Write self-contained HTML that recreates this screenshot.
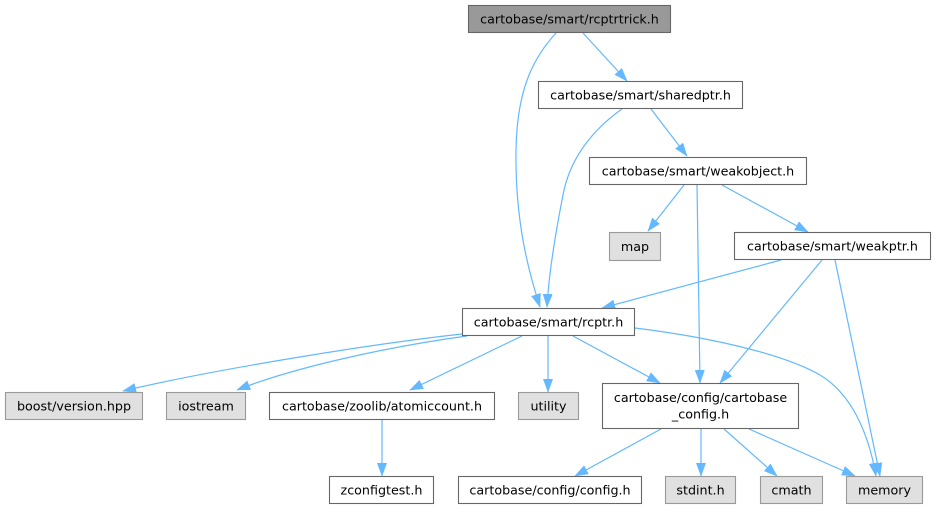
<!DOCTYPE html>
<html>
<head>
<meta charset="utf-8">
<style>
  html, body { margin: 0; padding: 0; background: #ffffff; }
  svg { display: block; }
  text { font-family: "DejaVu Sans", "Liberation Sans", sans-serif; font-size: 12.7px; fill: #000; text-anchor: middle; }
  .e { fill: none; stroke: #63b8ff; stroke-width: 1.2; }
  .w { fill: #ffffff; stroke: #666666; stroke-width: 1.1; }
  .g { fill: #e0e0e0; stroke: #999999; stroke-width: 1.1; }
  .t { fill: #999999; stroke: #666666; stroke-width: 1.1; }
</style>
</head>
<body>
<svg width="936" height="509" viewBox="0 0 936 509" xmlns="http://www.w3.org/2000/svg">
  <defs>
    <marker id="ah" markerUnits="userSpaceOnUse" markerWidth="14" markerHeight="11" refX="13" refY="5" orient="auto">
      <path d="M0,0.3 L13,5 L0,9.7 z" fill="#63b8ff" stroke="#63b8ff" stroke-width="0.5"/>
    </marker>
  </defs>

  <!-- edges -->
  <path class="e" marker-end="url(#ah)" d="M583,33 L627,81"/>
  <path class="e" marker-end="url(#ah)" d="M556,33 C536,55 517,85 516,150 C515,220 528,270 540,307"/>
  <path class="e" marker-end="url(#ah)" d="M622,109 C595,128 572,155 564,190 C556,230 549,270 547,307"/>
  <path class="e" marker-end="url(#ah)" d="M651,109 L687,156"/>
  <path class="e" marker-end="url(#ah)" d="M684,185 L648,231"/>
  <path class="e" marker-end="url(#ah)" d="M697,185 L700,383"/>
  <path class="e" marker-end="url(#ah)" d="M722,185 L808,232"/>
  <path class="e" marker-end="url(#ah)" d="M781,260 L602,308"/>
  <path class="e" marker-end="url(#ah)" d="M822,260 L720,383"/>
  <path class="e" marker-end="url(#ah)" d="M835,260 L880,476"/>
  <path class="e" marker-end="url(#ah)" d="M462,334 C380,343 220,368 123,391"/>
  <path class="e" marker-end="url(#ah)" d="M467,336 C400,345 300,365 237,390"/>
  <path class="e" marker-end="url(#ah)" d="M522,336 L410,390"/>
  <path class="e" marker-end="url(#ah)" d="M548,336 L548,392"/>
  <path class="e" marker-end="url(#ah)" d="M573,336 L660,383"/>
  <path class="e" marker-end="url(#ah)" d="M635,328 C700,336 780,352 820,375 C850,393 868,430 876,476"/>
  <path class="e" marker-end="url(#ah)" d="M382,420 L382,476"/>
  <path class="e" marker-end="url(#ah)" d="M661,429 L575,476"/>
  <path class="e" marker-end="url(#ah)" d="M701,429 L701,476"/>
  <path class="e" marker-end="url(#ah)" d="M724,429 L777,476"/>
  <path class="e" marker-end="url(#ah)" d="M749,429 L855,476"/>

  <!-- nodes -->
  <rect class="t" x="468.5" y="5.5" width="202" height="27"/>
  <text x="569.5" y="23.4">cartobase/smart/rcptrtrick.h</text>

  <rect class="w" x="538.5" y="81.5" width="204" height="27"/>
  <text x="640.5" y="99.4">cartobase/smart/sharedptr.h</text>

  <rect class="w" x="589.5" y="157.5" width="217" height="27"/>
  <text x="698" y="175.4">cartobase/smart/weakobject.h</text>

  <rect class="g" x="609.5" y="232.5" width="51" height="28"/>
  <text x="635" y="250.9">map</text>

  <rect class="w" x="734.5" y="232.5" width="196" height="27"/>
  <text x="832.5" y="250.4">cartobase/smart/weakptr.h</text>

  <rect class="w" x="462.5" y="308.5" width="172" height="27"/>
  <text x="548.5" y="326.4">cartobase/smart/rcptr.h</text>

  <rect class="g" x="5.5" y="392.5" width="137" height="27"/>
  <text x="74" y="410.4">boost/version.hpp</text>

  <rect class="g" x="166.5" y="392.5" width="79" height="27"/>
  <text x="206" y="410.4">iostream</text>

  <rect class="w" x="269.5" y="392.5" width="225" height="27"/>
  <text x="382" y="410.4">cartobase/zoolib/atomiccount.h</text>

  <rect class="g" x="518.5" y="392.5" width="60" height="27"/>
  <text x="548.5" y="410.4">utility</text>

  <rect class="w" x="602.5" y="383.5" width="196" height="45"/>
  <text x="700.5" y="401.9">cartobase/config/cartobase</text>
  <text x="700.5" y="418.6">_config.h</text>

  <rect class="w" x="329.5" y="476.5" width="104" height="27"/>
  <text x="381.5" y="494.4">zconfigtest.h</text>

  <rect class="w" x="458.5" y="476.5" width="183" height="27"/>
  <text x="550" y="494.4">cartobase/config/config.h</text>

  <rect class="g" x="665.5" y="476.5" width="70" height="27"/>
  <text x="700.5" y="494.4">stdint.h</text>

  <rect class="g" x="760.5" y="476.5" width="62" height="27"/>
  <text x="791.5" y="494.4">cmath</text>

  <rect class="g" x="846.5" y="476.5" width="76" height="27"/>
  <text x="884.5" y="494.4">memory</text>
</svg>
</body>
</html>
